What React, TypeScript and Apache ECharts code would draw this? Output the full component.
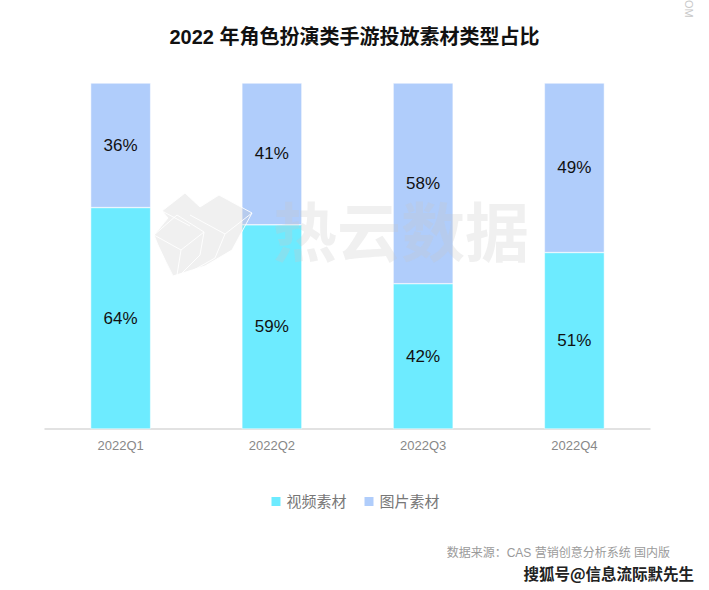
import React, { useEffect, useRef } from "react";
import * as echarts from "echarts";

const categories = ["2022Q1", "2022Q2", "2022Q3", "2022Q4"];
const videoValues = [64, 59, 42, 51];
const imageValues = [36, 41, 58, 49];
const seriesNames = ["视频素材", "图片素材"];
const titleText = "2022 年角色扮演类手游投放素材类型占比";
const sourceText = "数据来源：CAS 营销创意分析系统 国内版";
const watermarkText = "搜狐号@信息流际默先生";
const brandText = "热云数据";

const FONT = "'Liberation Sans', Arial, 'Noto Sans CJK SC', sans-serif";

export default function App() {
  const ref = useRef<HTMLDivElement>(null);
  useEffect(() => {
    if (!ref.current) return;
    const chart = echarts.init(ref.current, undefined, { renderer: "svg" });
    const labelStyle = {
      show: true,
      position: "inside",
      formatter: "{c}%",
      color: "#111",
      fontSize: 17,
      fontFamily: FONT,
    };
    const logoFill = "rgba(200,200,200,0.27)";
    const logoStroke = "rgba(255,255,255,0.9)";
    chart.setOption({
      animation: false,
      backgroundColor: "#fff",
      textStyle: { fontFamily: FONT },
      title: {
        text: titleText,
        left: "center",
        top: 22,
        textStyle: { fontSize: 20, fontWeight: "bold", color: "#111", fontFamily: FONT },
      },
      legend: {
        bottom: 76,
        left: "center",
        itemWidth: 11,
        itemHeight: 11,
        itemGap: 16,
        icon: "rect",
        textStyle: { color: "#777", fontSize: 15, fontFamily: FONT },
        data: seriesNames,
      },
      grid: { left: 45, right: 59, top: 83, bottom: 161 },
      xAxis: {
        type: "category",
        data: categories,
        axisLine: { lineStyle: { color: "#d9d9d9", width: 1.5 } },
        axisTick: { show: false },
        axisLabel: { color: "#888", fontSize: 13, margin: 10, fontFamily: FONT },
      },
      yAxis: {
        type: "value",
        min: 0,
        max: 100,
        show: false,
        splitLine: { show: false },
      },
      series: [
        {
          name: seriesNames[0],
          type: "bar",
          stack: "total",
          data: videoValues,
          barWidth: 60,
          itemStyle: { color: "#6DEBFF", borderColor: "#fff", borderWidth: 0.5 },
          label: labelStyle,
        },
        {
          name: seriesNames[1],
          type: "bar",
          stack: "total",
          data: imageValues,
          barWidth: 60,
          itemStyle: { color: "#B0CDFB", borderColor: "#fff", borderWidth: 0.5 },
          label: labelStyle,
        },
      ],
      graphic: [
        {
          type: "group",
          z: 100,
          silent: true,
          children: [
            {
              type: "polygon",
              z: 100,
              shape: {
                points: [
                  [185, 193], [162, 211], [168, 218], [154, 235], [158, 245],
                  [166, 262], [173, 276], [205, 266], [232, 250], [252, 213],
                  [219, 195], [200, 207],
                ],
              },
              style: { fill: logoFill, stroke: logoStroke, lineWidth: 1 },
            },
            {
              type: "polyline",
              z: 101,
              shape: { points: [[154, 235], [177, 215], [204, 232], [181, 250], [154, 235]] },
              style: { stroke: logoStroke, lineWidth: 1, fill: "none" },
            },
            {
              type: "polyline",
              z: 101,
              shape: { points: [[181, 250], [177, 275]] },
              style: { stroke: logoStroke, lineWidth: 1 },
            },
            {
              type: "polyline",
              z: 101,
              shape: { points: [[204, 232], [200, 255], [180, 275]] },
              style: { stroke: logoStroke, lineWidth: 1, fill: "none" },
            },
            {
              type: "polyline",
              z: 101,
              shape: { points: [[190, 215], [225, 234], [252, 213]] },
              style: { stroke: logoStroke, lineWidth: 1, fill: "none" },
            },
            {
              type: "polyline",
              z: 101,
              shape: { points: [[225, 234], [215, 258], [185, 275]] },
              style: { stroke: logoStroke, lineWidth: 1, fill: "none" },
            },
            {
              type: "polyline",
              z: 101,
              shape: { points: [[162, 211], [190, 226]] },
              style: { stroke: logoStroke, lineWidth: 1 },
            },
            {
              type: "text",
              z: 100,
              x: 273,
              y: 196,
              style: {
                text: brandText,
                fontSize: 64,
                fontWeight: "bold",
                fill: "rgba(200,200,200,0.27)",
                fontFamily: "'Noto Sans CJK SC', sans-serif",
              },
            },
          ],
        },
        {
          type: "text",
          right: 39,
          top: 547,
          style: {
            text: sourceText,
            fontSize: 12,
            fill: "#9a9a9a",
            fontFamily: FONT,
          },
        },
        {
          type: "text",
          right: 14,
          top: 564,
          z: 110,
          style: {
            text: watermarkText,
            fontSize: 15.5,
            fontWeight: "bold",
            fill: "#222",
            stroke: "#fff",
            lineWidth: 2,
            fontFamily: "'Noto Sans CJK SC', sans-serif",
          },
        },
        {
          type: "text",
          x: 694,
          y: 0,
          rotation: -Math.PI / 2,
          style: {
            text: "OM",
            fontSize: 11,
            fill: "#c8c8c8",
            fontFamily: FONT,
          },
        },
      ],
    });
    return () => chart.dispose();
  }, []);
  return (
    <div
      ref={ref}
      style={{ position: "fixed", left: 0, top: 0, width: 709, height: 590 }}
    />
  );
}
